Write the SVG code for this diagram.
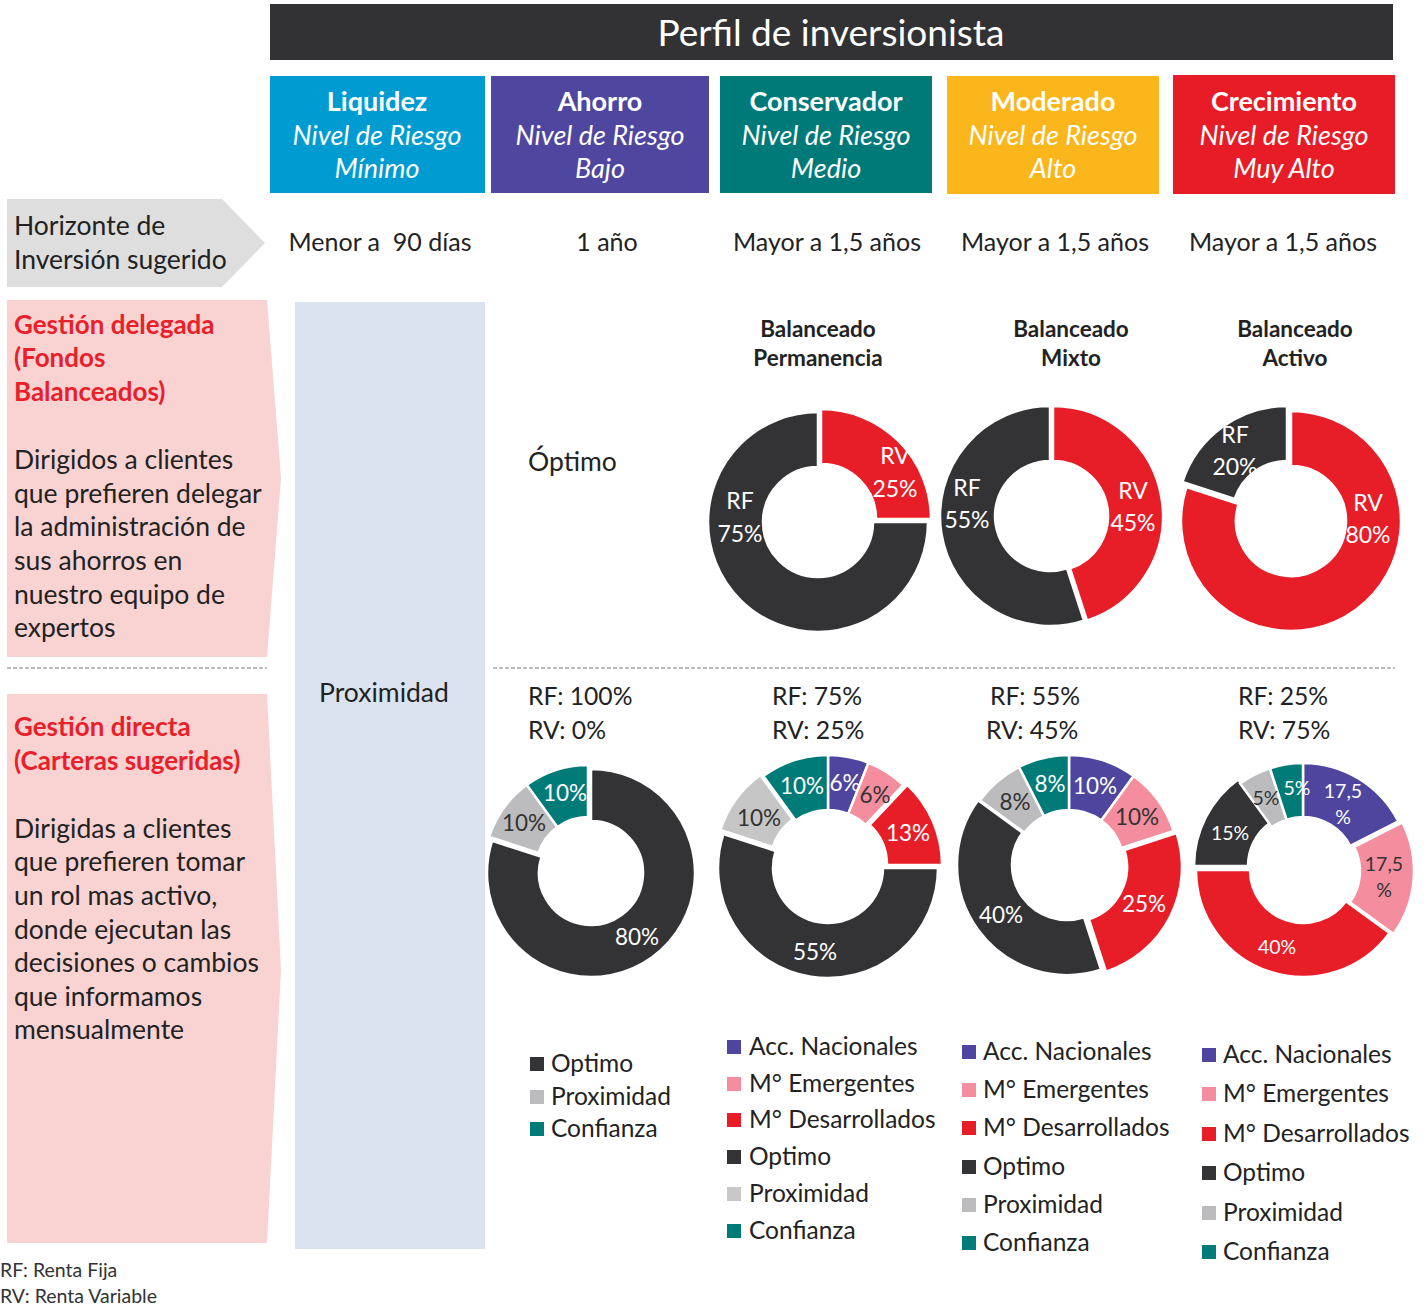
<svg xmlns="http://www.w3.org/2000/svg" width="1428" height="1306" viewBox="0 0 1428 1306">
<style>
text{font-family:Lato,"Open Sans","Liberation Sans",sans-serif}
.hw{fill:#fff}
.cat-t{font-size:27px;font-weight:bold;fill:#fff;text-anchor:middle}
.cat-i{font-size:27px;font-style:italic;fill:#fff;text-anchor:middle}
.hz{font-size:25px;fill:#222;text-anchor:middle}
.red{font-size:26px;font-weight:bold;fill:#e8202a}
.body{font-size:26.5px;fill:#222}
.ttl{font-size:22.5px;font-weight:bold;fill:#222;text-anchor:middle}
.rfrv{font-size:24.7px;fill:#222}
.lw{font-size:23px;fill:#fff;text-anchor:middle}
.lb{font-size:22.5px;fill:#fff;text-anchor:middle}
.ld{font-size:22.5px;fill:#333;text-anchor:middle}
.ls{font-size:19.5px;text-anchor:middle}
.leg{font-size:24.5px;fill:#222}
.sl{stroke:#fff;stroke-width:2.5;stroke-linejoin:miter}
.dk{fill:#333335}.rd{fill:#e71d27}.gy{fill:#bcbcbe}.tl{fill:#007b78}.pu{fill:#4e469e}.pk{fill:#f48d9d}
.dash{stroke:#a6a6a6;stroke-width:1.5;stroke-dasharray:4 2;fill:none}
</style>

<g id="header">
<rect x="270" y="4" width="1123" height="56" fill="#323234"/>
<text x="831" y="46" class="hw" font-size="37" text-anchor="middle">Perfil de inversionista</text>
</g>

<g id="cat-liquidez">
<rect x="270" y="76" width="215" height="117" fill="#009cd1"/>
<text x="377" y="111" class="cat-t">Liquidez</text>
<text x="377" y="145" class="cat-i">Nivel de Riesgo</text>
<text x="377" y="178" class="cat-i">Mínimo</text>
</g>
<g id="cat-ahorro">
<rect x="491" y="76" width="218" height="117" fill="#4f469f"/>
<text x="600" y="111" class="cat-t">Ahorro</text>
<text x="600" y="145" class="cat-i">Nivel de Riesgo</text>
<text x="600" y="178" class="cat-i">Bajo</text>
</g>
<g id="cat-conservador">
<rect x="720" y="76" width="212" height="117" fill="#007a78"/>
<text x="826" y="111" class="cat-t">Conservador</text>
<text x="826" y="145" class="cat-i">Nivel de Riesgo</text>
<text x="826" y="178" class="cat-i">Medio</text>
</g>
<g id="cat-moderado">
<rect x="947" y="76" width="212" height="118" fill="#fbb61b"/>
<text x="1053" y="111" class="cat-t">Moderado</text>
<text x="1053" y="145" class="cat-i">Nivel de Riesgo</text>
<text x="1053" y="178" class="cat-i">Alto</text>
</g>
<g id="cat-crecimiento">
<rect x="1173" y="75" width="222" height="119" fill="#e81c26"/>
<text x="1284" y="111" class="cat-t">Crecimiento</text>
<text x="1284" y="145" class="cat-i">Nivel de Riesgo</text>
<text x="1284" y="178" class="cat-i">Muy Alto</text>
</g>

<g id="horizonte">
<polygon points="7,199 222,199 265,243 222,287 7,287" fill="#dedede"/>
<text x="14" y="235" class="body" font-size="24.5">Horizonte de</text>
<text x="14" y="269" class="body" font-size="24.5">Inversión sugerido</text>
</g>
<g id="horizon-values">
<text x="380" y="251" class="hz">Menor a &#160;90 días</text>
<text x="607" y="251" class="hz">1 año</text>
<text x="827" y="251" class="hz">Mayor a 1,5 años</text>
<text x="1055" y="251" class="hz">Mayor a 1,5 años</text>
<text x="1283" y="251" class="hz">Mayor a 1,5 años</text>
</g>

<g id="panel-delegada">
<polygon points="7,300 267,300 281,478 267,657 7,657" fill="#f9d2d2"/>
<text x="14" y="334" class="red">Gestión delegada</text>
<text x="14" y="367" class="red">(Fondos</text>
<text x="14" y="401" class="red">Balanceados)</text>
<text x="14" y="469" class="body">Dirigidos a clientes</text>
<text x="14" y="503" class="body">que prefieren delegar</text>
<text x="14" y="536" class="body">la administración de</text>
<text x="14" y="570" class="body">sus ahorros en</text>
<text x="14" y="604" class="body">nuestro equipo de</text>
<text x="14" y="637" class="body">expertos</text>
</g>

<g id="panel-directa">
<polygon points="7,694 267,694 281,970 267,1243 7,1243" fill="#f9d2d2"/>
<text x="14" y="736" class="red">Gestión directa</text>
<text x="14" y="770" class="red">(Carteras sugeridas)</text>
<text x="14" y="838" class="body">Dirigidas a clientes</text>
<text x="14" y="871" class="body">que prefieren tomar</text>
<text x="14" y="905" class="body">un rol mas activo,</text>
<text x="14" y="939" class="body">donde ejecutan las</text>
<text x="14" y="972" class="body">decisiones o cambios</text>
<text x="14" y="1006" class="body">que informamos</text>
<text x="14" y="1039" class="body">mensualmente</text>
</g>

<g id="proximidad-col">
<rect x="295" y="302" width="190" height="947" fill="#dae3ef"/>
<text x="384" y="702" class="body" font-size="27" text-anchor="middle">Proximidad</text>
</g>

<g id="connectors">
<line x1="7" y1="668" x2="267" y2="668" class="dash"/>
<line x1="493" y1="668" x2="1395" y2="668" class="dash"/>
</g>

<text x="528" y="471" class="body" font-size="27">Óptimo</text>

<g id="titles-top">
<text x="818" y="337" class="ttl">Balanceado</text>
<text x="818" y="366" class="ttl">Permanencia</text>
<text x="1071" y="337" class="ttl">Balanceado</text>
<text x="1071" y="366" class="ttl">Mixto</text>
<text x="1295" y="337" class="ttl">Balanceado</text>
<text x="1295" y="366" class="ttl">Activo</text>
</g>

<g id="donut-permanencia" transform="translate(818,522)">
<path class="sl rd" transform="translate(3,-3)" d="M0,-110 A110,110 0 0 1 110,0 L55,0 A55,55 0 0 0 0,-55 Z"/>
<path class="sl dk" d="M110,0 A110,110 0 1 1 0,-110 L0,-55 A55,55 0 1 0 55,0 Z"/>
</g>
<g id="donut-mixto" transform="translate(1050,516)">
<path class="sl rd" transform="translate(3,0)" d="M0,-110 A110,110 0 0 1 33.99,104.62 L17,52.31 A55,55 0 0 0 0,-55 Z"/>
<path class="sl dk" d="M33.99,104.62 A110,110 0 1 1 0,-110 L0,-55 A55,55 0 1 0 17,52.31 Z"/>
</g>
<g id="donut-activo" transform="translate(1291,521)">
<path class="sl rd" d="M0,-110 A110,110 0 1 1 -104.62,-33.99 L-52.31,-16.99 A55,55 0 1 0 0,-55 Z"/>
<path class="sl dk" transform="translate(-4,-5)" d="M-104.62,-33.99 A110,110 0 0 1 0,-110 L0,-55 A55,55 0 0 0 -52.31,-16.99 Z"/>
</g>
<g id="labels-top">
<text x="895" y="464" class="lw">RV</text>
<text x="895" y="497" class="lw">25%</text>
<text x="740" y="509" class="lw">RF</text>
<text x="740" y="542" class="lw">75%</text>
<text x="1133" y="499" class="lw">RV</text>
<text x="1133" y="531" class="lw">45%</text>
<text x="967" y="496" class="lw">RF</text>
<text x="967" y="528" class="lw">55%</text>
<text x="1235" y="443" class="lw">RF</text>
<text x="1235" y="475" class="lw">20%</text>
<text x="1368" y="511" class="lw">RV</text>
<text x="1368" y="543" class="lw">80%</text>
</g>

<g id="rfrv-headers">
<text x="528" y="705" class="rfrv">RF: 100%</text>
<text x="528" y="739" class="rfrv">RV: 0%</text>
<text x="772" y="705" class="rfrv">RF: 75%</text>
<text x="772" y="739" class="rfrv">RV: 25%</text>
<text x="990" y="705" class="rfrv">RF: 55%</text>
<text x="986" y="739" class="rfrv">RV: 45%</text>
<text x="1238" y="705" class="rfrv">RF: 25%</text>
<text x="1238" y="739" class="rfrv">RV: 75%</text>
</g>

<g id="donut-liquidez" transform="translate(591,873)">
<path class="sl dk" d="M0,-104 A104,104 0 1 1 -98.91,-32.14 L-49.46,-16.07 A52,52 0 1 0 0,-52 Z"/>
<g transform="translate(-3,-4)">
<path class="sl gy" d="M-98.91,-32.14 A104,104 0 0 1 -61.13,-84.14 L-30.57,-42.07 A52,52 0 0 0 -49.46,-16.07 Z"/>
<path class="sl tl" d="M-61.13,-84.14 A104,104 0 0 1 0,-104 L0,-52 A52,52 0 0 0 -30.57,-42.07 Z"/>
</g>
</g>
<g id="donut-ahorro" transform="translate(828,868)">
<g transform="translate(0,-3)">
<path class="sl pu" d="M0,-110 A110,110 0 0 1 40.49,-102.28 L20.25,-51.14 A55,55 0 0 0 0,-55 Z"/>
<path class="sl pk" d="M40.49,-102.28 A110,110 0 0 1 75.30,-80.19 L37.65,-40.10 A55,55 0 0 0 20.25,-51.14 Z"/>
<path class="sl tl" d="M-64.66,-88.99 A110,110 0 0 1 0,-110 L0,-55 A55,55 0 0 0 -32.33,-44.5 Z"/>
</g>
<path class="sl rd" transform="translate(4,-3)" d="M75.30,-80.19 A110,110 0 0 1 110,0 L55,0 A55,55 0 0 0 37.65,-40.10 Z"/>
<path class="sl dk" d="M110,0 A110,110 0 1 1 -104.62,-33.99 L-52.31,-17 A55,55 0 1 0 55,0 Z"/>
<path class="sl gy" style="fill:#c6c6c6" transform="translate(-3,-4)" d="M-104.62,-33.99 A110,110 0 0 1 -64.66,-88.99 L-32.33,-44.5 A55,55 0 0 0 -52.31,-17 Z"/>
</g>
<g id="donut-conservador" transform="translate(1069,865)">
<path class="sl pu" d="M0,-110 A110,110 0 0 1 64.66,-88.99 L32.33,-44.5 A55,55 0 0 0 0,-55 Z"/>
<path class="sl pk" d="M64.66,-88.99 A110,110 0 0 1 104.62,-33.99 L52.31,-17 A55,55 0 0 0 32.33,-44.5 Z"/>
<path class="sl rd" transform="translate(3,2)" d="M104.62,-33.99 A110,110 0 0 1 33.99,104.62 L17,52.31 A55,55 0 0 0 52.31,-17 Z"/>
<path class="sl dk" transform="translate(-2,0)" d="M33.99,104.62 A110,110 0 0 1 -88.99,-64.66 L-44.5,-32.33 A55,55 0 0 0 17,52.31 Z"/>
<path class="sl gy" d="M-88.99,-64.66 A110,110 0 0 1 -49.94,-98.01 L-24.97,-49.01 A55,55 0 0 0 -44.5,-32.33 Z"/>
<path class="sl tl" d="M-49.94,-98.01 A110,110 0 0 1 0,-110 L0,-55 A55,55 0 0 0 -24.97,-49.01 Z"/>
</g>
<g id="donut-moderado" transform="translate(1303,870)">
<path class="sl pu" d="M0,-107 A107,107 0 0 1 95.34,-48.58 L47.22,-24.06 A53,53 0 0 0 0,-53 Z"/>
<path class="sl pk" transform="translate(4,1)" d="M95.34,-48.58 A107,107 0 0 1 86.56,62.89 L42.88,31.15 A53,53 0 0 0 47.22,-24.06 Z"/>
<path class="sl rd" d="M86.56,62.89 A107,107 0 0 1 -107,0 L-53,0 A53,53 0 0 0 42.88,31.15 Z"/>
<path class="sl dk" transform="translate(-2,-4)" d="M-107,0 A107,107 0 0 1 -62.89,-86.56 L-31.15,-42.88 A53,53 0 0 0 -53,0 Z"/>
<path class="sl gy" d="M-62.89,-86.56 A107,107 0 0 1 -33.06,-101.76 L-16.38,-50.41 A53,53 0 0 0 -31.15,-42.88 Z"/>
<path class="sl tl" d="M-33.06,-101.76 A107,107 0 0 1 0,-107 L0,-53 A53,53 0 0 0 -16.38,-50.41 Z"/>
</g>

<g id="labels-bottom">
<text x="565" y="801" class="lb" font-size="22">10%</text>
<text x="524" y="831" class="ld" font-size="22">10%</text>
<text x="637" y="945" class="lb" font-size="22">80%</text>
<text x="802" y="794" class="lb">10%</text>
<text x="845" y="791" class="lb">6%</text>
<text x="875" y="803" class="ld">6%</text>
<text x="908" y="841" class="lb">13%</text>
<text x="759" y="826" class="ld">10%</text>
<text x="815" y="960" class="lb">55%</text>
<text x="1095" y="794" class="lb" font-size="19.5">10%</text>
<text x="1137" y="825" class="ld" font-size="19.5">10%</text>
<text x="1144" y="912" class="lb" font-size="19.5">25%</text>
<text x="1001" y="923" class="lb" font-size="19.5">40%</text>
<text x="1015" y="810" class="ld" font-size="19.5">8%</text>
<text x="1050" y="792" class="lb" font-size="19.5">8%</text>
<text x="1343" y="798" class="ls" fill="#fff">17,5</text>
<text x="1343" y="824" class="ls" fill="#fff">%</text>
<text x="1384" y="871" class="ls" fill="#333">17,5</text>
<text x="1384" y="897" class="ls" fill="#333">%</text>
<text x="1277" y="954" class="ls" fill="#fff">40%</text>
<text x="1230" y="840" class="ls" fill="#fff">15%</text>
<text x="1266" y="805" class="ls" fill="#333">5%</text>
<text x="1297" y="795" class="ls" fill="#fff">5%</text>
</g>

<g id="legend-1">
<rect x="530" y="1057" width="14" height="14" class="dk"/><text x="551" y="1072" class="leg">Optimo</text>
<rect x="530" y="1090" width="14" height="14" class="gy"/><text x="551" y="1105" class="leg">Proximidad</text>
<rect x="530" y="1122" width="14" height="14" class="tl"/><text x="551" y="1137" class="leg">Confianza</text>
</g>
<g id="legend-2">
<rect x="727" y="1040" width="14" height="14" class="pu"/><text x="749" y="1055" class="leg">Acc. Nacionales</text>
<rect x="727" y="1077" width="14" height="14" class="pk"/><text x="749" y="1092" class="leg">M° Emergentes</text>
<rect x="727" y="1113" width="14" height="14" class="rd"/><text x="749" y="1128" class="leg">M° Desarrollados</text>
<rect x="727" y="1150" width="14" height="14" class="dk"/><text x="749" y="1165" class="leg">Optimo</text>
<rect x="727" y="1187" width="14" height="14" fill="#c8c8c8"/><text x="749" y="1202" class="leg">Proximidad</text>
<rect x="727" y="1224" width="14" height="14" class="tl"/><text x="749" y="1239" class="leg">Confianza</text>
</g>
<g id="legend-3">
<rect x="962" y="1045" width="14" height="14" class="pu"/><text x="983" y="1060" class="leg">Acc. Nacionales</text>
<rect x="962" y="1083" width="14" height="14" class="pk"/><text x="983" y="1098" class="leg">M° Emergentes</text>
<rect x="962" y="1121" width="14" height="14" class="rd"/><text x="983" y="1136" class="leg">M° Desarrollados</text>
<rect x="962" y="1160" width="14" height="14" class="dk"/><text x="983" y="1175" class="leg">Optimo</text>
<rect x="962" y="1198" width="14" height="14" class="gy"/><text x="983" y="1213" class="leg">Proximidad</text>
<rect x="962" y="1236" width="14" height="14" class="tl"/><text x="983" y="1251" class="leg">Confianza</text>
</g>
<g id="legend-4">
<rect x="1202" y="1048" width="14" height="14" class="pu"/><text x="1223" y="1063" class="leg">Acc. Nacionales</text>
<rect x="1202" y="1087" width="14" height="14" class="pk"/><text x="1223" y="1102" class="leg">M° Emergentes</text>
<rect x="1202" y="1127" width="14" height="14" class="rd"/><text x="1223" y="1142" class="leg">M° Desarrollados</text>
<rect x="1202" y="1166" width="14" height="14" class="dk"/><text x="1223" y="1181" class="leg">Optimo</text>
<rect x="1202" y="1206" width="14" height="14" class="gy"/><text x="1223" y="1221" class="leg">Proximidad</text>
<rect x="1202" y="1245" width="14" height="14" class="tl"/><text x="1223" y="1260" class="leg">Confianza</text>
</g>

<g id="footer">
<text x="0" y="1277" font-size="19.5" fill="#333">RF: Renta Fija</text>
<text x="0" y="1303" font-size="19.5" fill="#333">RV: Renta Variable</text>
</g>
</svg>
